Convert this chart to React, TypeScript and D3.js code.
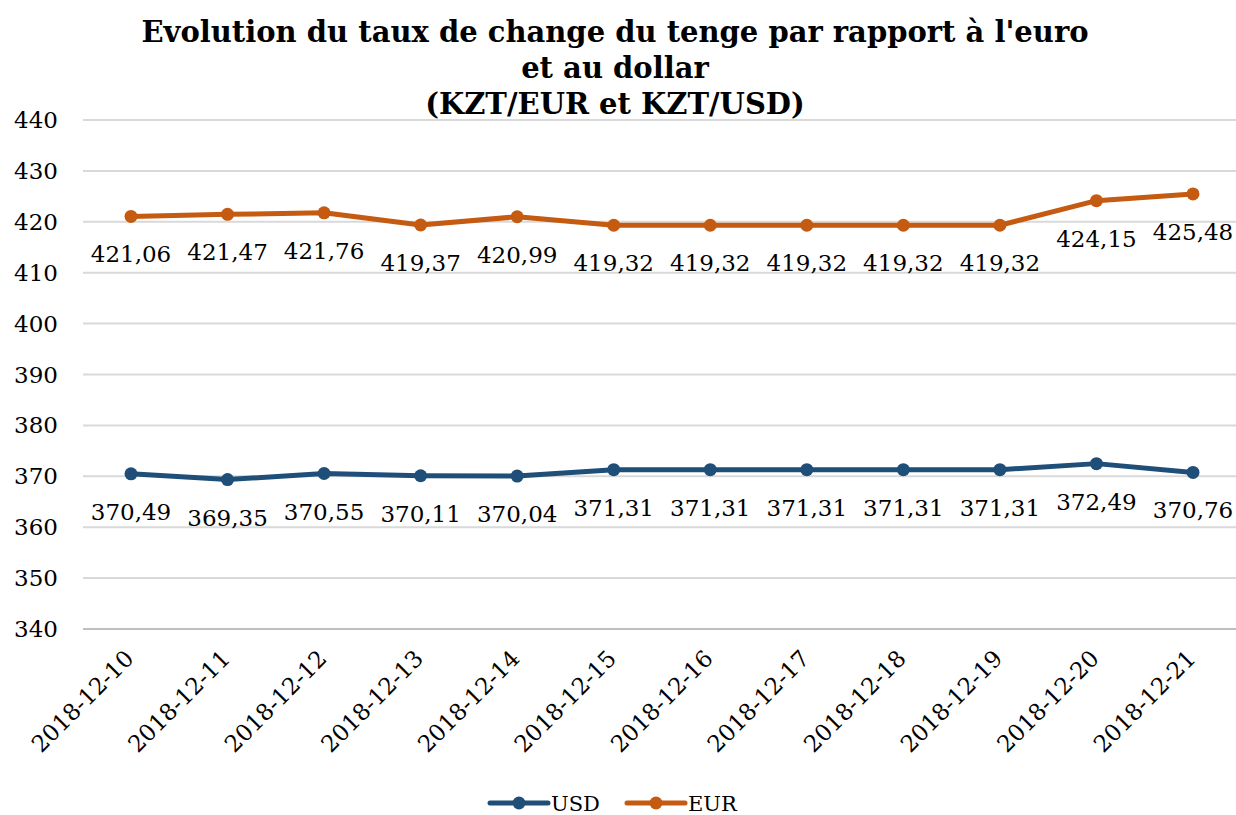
import React from 'react';
import * as d3 from 'd3';

const dates = [
  '2018-12-10', '2018-12-11', '2018-12-12', '2018-12-13', '2018-12-14', '2018-12-15',
  '2018-12-16', '2018-12-17', '2018-12-18', '2018-12-19', '2018-12-20', '2018-12-21',
];
const usd = [370.49, 369.35, 370.55, 370.11, 370.04, 371.31, 371.31, 371.31, 371.31, 371.31, 372.49, 370.76];
const eur = [421.06, 421.47, 421.76, 419.37, 420.99, 419.32, 419.32, 419.32, 419.32, 419.32, 424.15, 425.48];
const yTicks = [340, 350, 360, 370, 380, 390, 400, 410, 420, 430, 440];
const titleLines = [
  "Evolution du taux de change du tenge par rapport à l'euro",
  'et au dollar',
  '(KZT/EUR et KZT/USD)',
];

const W = 1236;
const H = 815;
const FONT = '"DejaVu Serif", Georgia, serif';

const series = [
  { name: 'USD', values: usd, color: '#1F4E79' },
  { name: 'EUR', values: eur, color: '#C55A11' },
];

const App = () => {
  const x = d3.scalePoint<string>().domain(dates).range([131, 1193]);
  const y = d3.scaleLinear().domain([340, 440]).range([629, 120]);
  const line = d3.line<number>().x((d, i) => x(dates[i]) as number).y(d => y(d));
  const fmt = (v: number) => v.toFixed(2).replace('.', ',');

  return (
    <svg width={W} height={H} style={{ display: 'block', position: 'absolute', left: 0, top: 0 }}>
      <rect width={W} height={H} fill="#fff" />
      {titleLines.map((t, i) => (
        <text key={i} x={615} y={42 + i * 36} textAnchor="middle" fontFamily={FONT}
          fontWeight="bold" fontSize={29} fill="#000">{t}</text>
      ))}
      {yTicks.map(t => (
        <g key={t}>
          <line x1={83} x2={W} y1={y(t)} y2={y(t)} stroke={t === 340 ? '#bfbfbf' : '#d9d9d9'} strokeWidth={2} />
          <text x={58} y={y(t) + 8} textAnchor="end" fontFamily={FONT} fontSize={23} fill="#000">{t}</text>
        </g>
      ))}
      {dates.map(d => {
        const px = (x(d) as number) + 4;
        const py = 660;
        return (
          <text key={d} x={px} y={py} transform={`rotate(-45 ${px} ${py})`} textAnchor="end"
            fontFamily={FONT} fontSize={23} fill="#000">{d}</text>
        );
      })}
      {series.map(s => (
        <g key={s.name}>
          <path d={line(s.values) || ''} fill="none" stroke={s.color} strokeWidth={5} strokeLinejoin="round" />
          {s.values.map((v, i) => (
            <circle key={i} cx={x(dates[i])} cy={y(v)} r={6.5} fill={s.color} />
          ))}
          {s.values.map((v, i) => (
            <text key={'l' + i} x={x(dates[i])} y={y(v) + 46} textAnchor="middle"
              fontFamily={FONT} fontSize={23} fill="#000">{fmt(v)}</text>
          ))}
        </g>
      ))}
      {series.map((s, i) => {
        const lx = 490 + i * 137;
        return (
          <g key={'leg' + s.name}>
            <line x1={lx} x2={lx + 58} y1={803} y2={803} stroke={s.color} strokeWidth={5} strokeLinecap="round" />
            <circle cx={lx + 29} cy={803} r={6.5} fill={s.color} />
            <text x={lx + 61} y={811} fontFamily={FONT} fontSize={21} fill="#000">{s.name}</text>
          </g>
        );
      })}
    </svg>
  );
};

export default App;
